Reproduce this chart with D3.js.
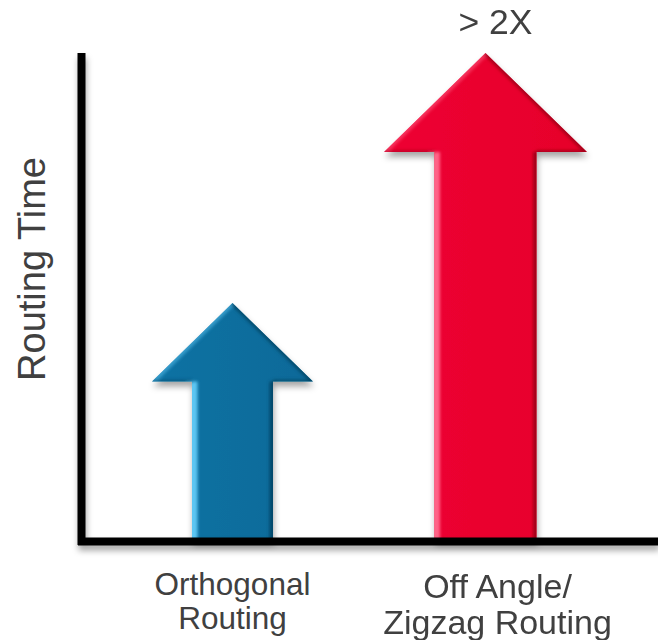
<!DOCTYPE html>
<html>
<head>
<meta charset="utf-8">
<script src="https://cdn.jsdelivr.net/npm/d3@7/dist/d3.min.js"></script>
<style>
  html, body { margin: 0; padding: 0; background: #fff; }
  svg { display: block; }
  text { font-family: "Liberation Sans", Arial, Helvetica, sans-serif; fill: #404040; }
</style>
</head>
<body>
<svg id="chart" width="658" height="640"></svg>
<script>
// Routing methods compared, relative routing time
const categories = ["Orthogonal Routing", "Off Angle/ Zigzag Routing"];
const labelLines = [["Orthogonal", "Routing"], ["Off Angle/", "Zigzag Routing"]];
const values = [1, 2.05];
const valueNotes = ["", "> 2X"];
const axisTitle = "Routing Time";

const W = 658, H = 640;
const svg = d3.select("#chart");
const defs = svg.append("defs");

// visual styling per arrow
const palette = [
  { main0: "#0c72a3", main1: "#096a99", light: "#5cc6f3", dark: "#053f5c", shaft: 81, fontSize: 31.5, lineGap: 34, labelDx: 0, baseY: 595 },
  { main0: "#ee0632", main1: "#e6002b", light: "#ff6487", dark: "#8e0016", shaft: 102, fontSize: 34, lineGap: 36, labelDx: 12, baseY: 598 }
];

const x = d3.scalePoint().domain(categories).range([106, 612]).padding(0.5);
const y = d3.scaleLinear().domain([0, 2.05]).range([541, 53]);

// soft drop shadow shared by axes and arrows
const sh = defs.append("filter").attr("id", "shadow")
  .attr("x", "-20%").attr("y", "-20%").attr("width", "140%").attr("height", "140%");
sh.append("feDropShadow").attr("dx", 1).attr("dy", 5).attr("stdDeviation", 3)
  .attr("flood-color", "#000").attr("flood-opacity", 0.35);

const soft = defs.append("filter").attr("id", "soft");
soft.append("feGaussianBlur").attr("stdDeviation", 1.6);

function arrowPoints(cat, v, sw) {
  const cx = x(cat);
  const yt = y(v), y0 = y(0) - 1;
  const hw = sw - 0.5, hh = sw * 0.97;
  return {
    cx, yt, y0, hw, hh,
    pts: [
      [cx, yt], [cx + hw, yt + hh], [cx + sw / 2, yt + hh], [cx + sw / 2, y0],
      [cx - sw / 2, y0], [cx - sw / 2, yt + hh], [cx - hw, yt + hh]
    ]
  };
}

const line = d3.line();

categories.forEach((cat, i) => {
  const st = palette[i];
  const a = arrowPoints(cat, values[i], st.shaft);
  const p = a.pts;

  const grad = defs.append("linearGradient").attr("id", "fill" + i)
    .attr("x1", 0).attr("x2", 1).attr("y1", 0).attr("y2", 0);
  grad.append("stop").attr("offset", "0%").attr("stop-color", st.main0);
  grad.append("stop").attr("offset", "100%").attr("stop-color", st.main1);

  defs.append("clipPath").attr("id", "clip" + i)
    .append("path").attr("d", line(p) + "Z");

  const g = svg.append("g").attr("class", "arrow");

  g.append("path").attr("d", line(p) + "Z")
    .attr("fill", "url(#fill" + i + ")")
    .attr("filter", "url(#shadow)");

  // bevelled edges inside the outline
  const bevel = g.append("g").attr("clip-path", "url(#clip" + i + ")");
  const edges = bevel.append("g").attr("filter", "url(#soft)");
  edges.append("path").attr("d", line([p[6], p[0]]))
    .attr("stroke", st.light).attr("stroke-width", 6).attr("fill", "none").attr("opacity", 0.5);
  edges.append("path").attr("d", line([p[5], p[4]]))
    .attr("stroke", st.light).attr("stroke-width", 11).attr("fill", "none");
  edges.append("path").attr("d", line([p[0], p[1]]))
    .attr("stroke", st.dark).attr("stroke-width", 5).attr("fill", "none").attr("opacity", 0.7);
  edges.append("path").attr("d", line([p[2], p[3]]))
    .attr("stroke", st.dark).attr("stroke-width", 7).attr("fill", "none").attr("opacity", 0.75);
  edges.append("path").attr("d", line([p[1], p[2]]))
    .attr("stroke", st.dark).attr("stroke-width", 4).attr("fill", "none").attr("opacity", 0.6);
  edges.append("path").attr("d", line([p[5], p[6]]))
    .attr("stroke", st.dark).attr("stroke-width", 4).attr("fill", "none").attr("opacity", 0.4);

  // category label, one text per line
  labelLines[i].forEach((ln, k) => {
    svg.append("text")
      .attr("text-anchor", "middle")
      .attr("font-size", st.fontSize)
      .attr("x", a.cx + st.labelDx)
      .attr("y", st.baseY + k * st.lineGap)
      .text(ln);
  });

  if (valueNotes[i]) {
    svg.append("text")
      .attr("text-anchor", "middle")
      .attr("font-size", 35.5)
      .attr("x", a.cx + 10)
      .attr("y", a.yt - 19)
      .text(valueNotes[i]);
  }
});

// axes: heavy black lines, no ticks
const axes = svg.append("g").attr("filter", "url(#shadow)");
const yAxis = axes.append("g")
  .attr("transform", "translate(81.5,0)")
  .call(d3.axisLeft(y).tickValues([]).tickSizeOuter(0));
yAxis.select(".domain").attr("stroke", "#000").attr("stroke-width", 8)
  .attr("d", "M0," + (y.range()[1]) + "V" + (y(0) + 4));

const xs = d3.scaleLinear().domain([0, 1]).range([77.5, W]);
const xAxis = axes.append("g")
  .attr("transform", "translate(0," + y(0) + ")")
  .call(d3.axisBottom(xs).tickValues([]).tickSizeOuter(0));
xAxis.select(".domain").attr("stroke", "#000").attr("stroke-width", 8);

// axis title
svg.append("text")
  .attr("text-anchor", "middle")
  .attr("font-size", 38)
  .attr("transform", "translate(45,269) rotate(-90)")
  .text(axisTitle);
</script>
</body>
</html>
